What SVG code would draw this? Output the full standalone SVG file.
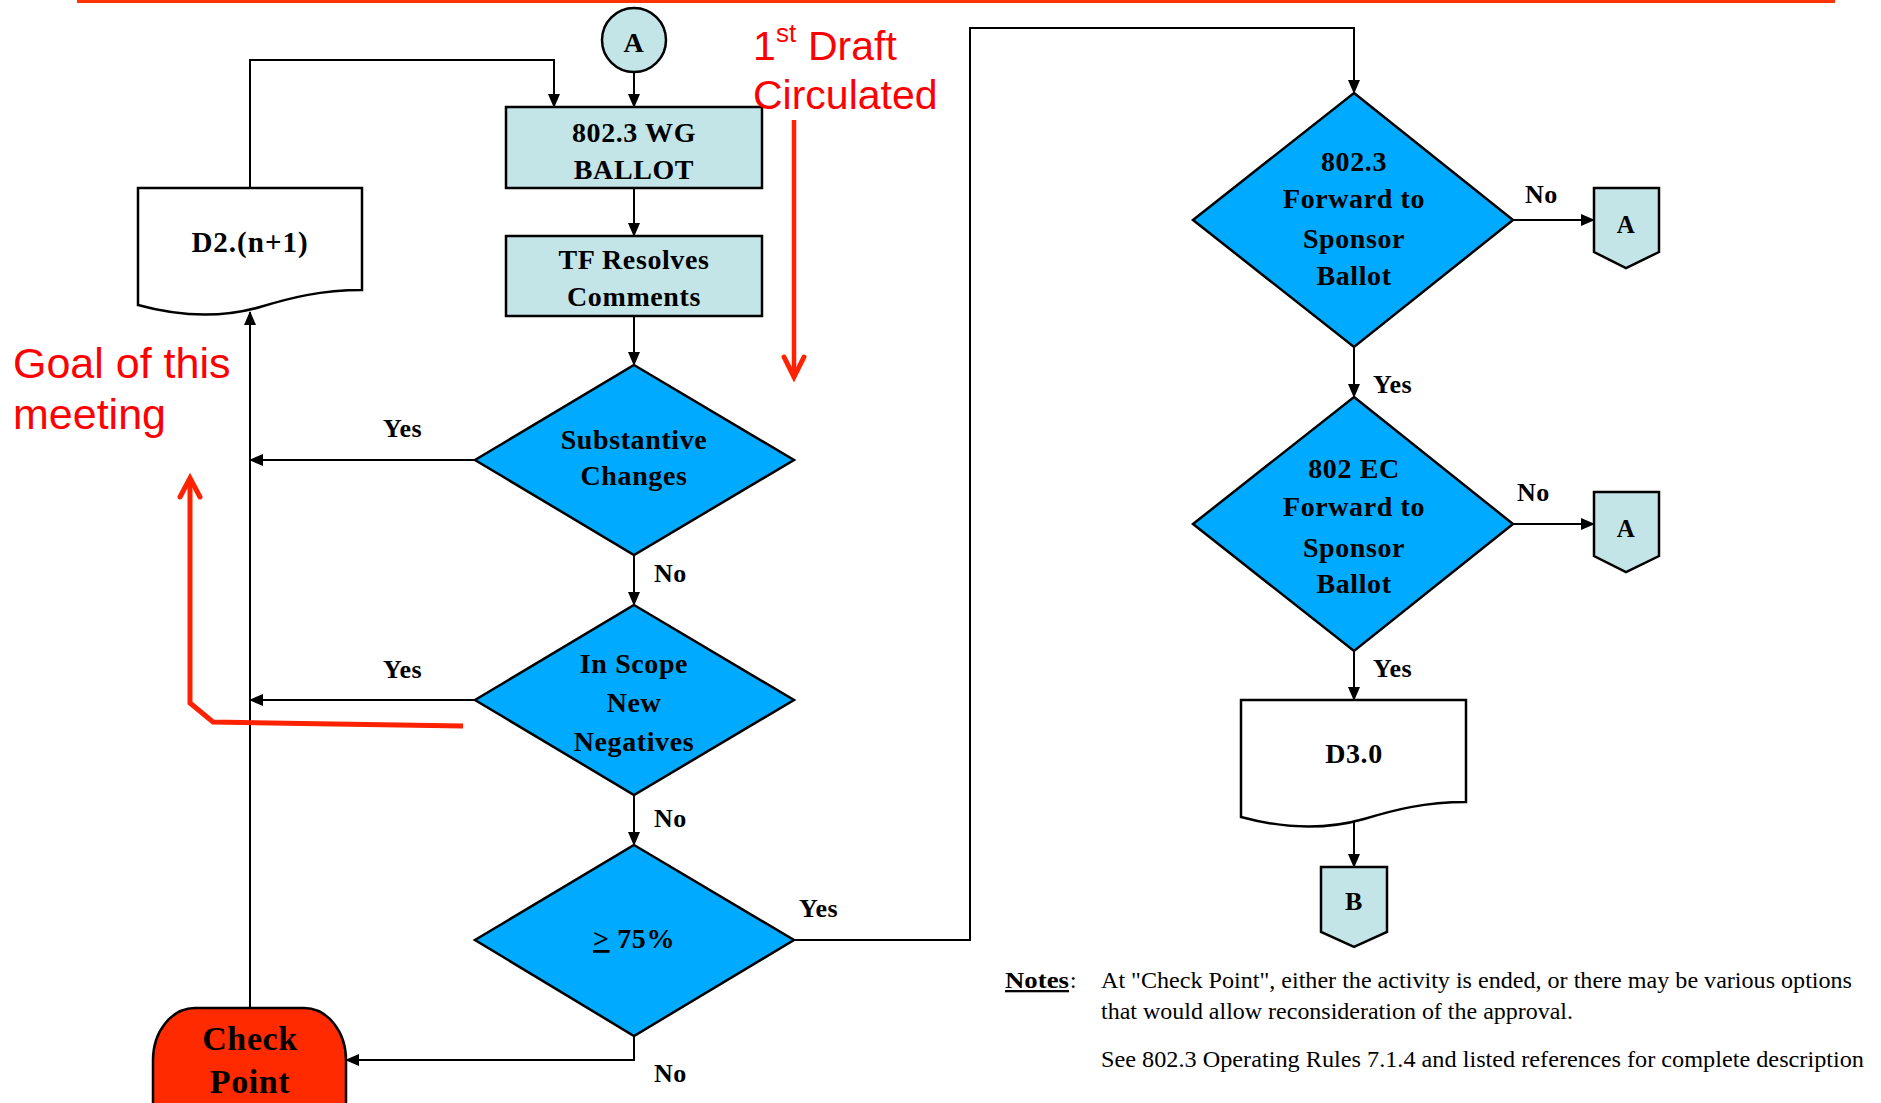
<svg xmlns="http://www.w3.org/2000/svg" width="1881" height="1103" viewBox="0 0 1881 1103">
<defs>
<marker id="arr" markerUnits="userSpaceOnUse" markerWidth="14" markerHeight="12" refX="13" refY="6" orient="auto">
<path d="M0,0 L14,6 L0,12 Z" fill="#000"/>
</marker>
<style>
.ln{fill:none;stroke:#000;stroke-width:2}
.box{fill:#C4E5E8;stroke:#000;stroke-width:2.5}
.dia{fill:#00AAFF;stroke:#000;stroke-width:2.5}
.doc{fill:#fff;stroke:#000;stroke-width:2.5}
.t{font-family:"Liberation Serif","Times New Roman",serif;font-weight:bold;font-size:28px;fill:#000;text-anchor:middle;letter-spacing:0.6px}
.lb{font-family:"Liberation Serif","Times New Roman",serif;font-weight:bold;font-size:26px;fill:#000;letter-spacing:0.5px}
.red{font-family:"Liberation Sans",Arial,sans-serif;font-size:41px;fill:#FF0000}
.rl{fill:none;stroke:#FF2200;stroke-width:5;stroke-linejoin:miter}
.nt{font-family:"Liberation Serif","Times New Roman",serif;font-size:23px;fill:#000}
</style>
</defs>
<line x1="77" y1="1.5" x2="1835" y2="1.5" stroke="#FF3300" stroke-width="3"/>

<g id="connectors">
<line class="ln" x1="634" y1="72" x2="634" y2="107" marker-end="url(#arr)"/>
<line class="ln" x1="634" y1="188" x2="634" y2="236" marker-end="url(#arr)"/>
<line class="ln" x1="634" y1="316" x2="634" y2="365" marker-end="url(#arr)"/>
<line class="ln" x1="634" y1="555" x2="634" y2="605" marker-end="url(#arr)"/>
<line class="ln" x1="634" y1="795" x2="634" y2="845" marker-end="url(#arr)"/>
<line class="ln" x1="475" y1="460" x2="250" y2="460" marker-end="url(#arr)"/>
<line class="ln" x1="475" y1="700" x2="250" y2="700" marker-end="url(#arr)"/>
<line class="ln" x1="250" y1="1008" x2="250" y2="312" marker-end="url(#arr)"/>
<polyline class="ln" points="250,188 250,60 554,60 554,107" marker-end="url(#arr)"/>
<polyline class="ln" points="634,1036 634,1060 346,1060" marker-end="url(#arr)"/>
<polyline class="ln" points="794,940 970,940 970,28 1354,28 1354,93" marker-end="url(#arr)"/>
<line class="ln" x1="1513" y1="220" x2="1594" y2="220" marker-end="url(#arr)"/>
<line class="ln" x1="1354" y1="347" x2="1354" y2="397" marker-end="url(#arr)"/>
<line class="ln" x1="1513" y1="524" x2="1594" y2="524" marker-end="url(#arr)"/>
<line class="ln" x1="1354" y1="651" x2="1354" y2="700" marker-end="url(#arr)"/>
<line class="ln" x1="1354" y1="820" x2="1354" y2="867" marker-end="url(#arr)"/>
<text class="lb" x="383" y="437">Yes</text>
<text class="lb" x="383" y="678">Yes</text>
<text class="lb" x="654" y="582">No</text>
<text class="lb" x="654" y="827">No</text>
<text class="lb" x="799" y="917">Yes</text>
<text class="lb" x="654" y="1082">No</text>
<text class="lb" x="1525" y="203">No</text>
<text class="lb" x="1373" y="393">Yes</text>
<text class="lb" x="1517" y="501">No</text>
<text class="lb" x="1373" y="677">Yes</text>
</g>

<g id="nodeA">
<circle cx="634" cy="40" r="32" class="box"/>
<text class="t" x="634" y="52">A</text>
</g>
<g id="ballot">
<rect x="506" y="107" width="256" height="81" class="box"/>
<text class="t" x="634" y="142">802.3 WG</text>
<text class="t" x="634" y="179">BALLOT</text>
</g>
<g id="resolve">
<rect x="506" y="236" width="256" height="80" class="box"/>
<text class="t" x="634" y="269">TF Resolves</text>
<text class="t" x="634" y="306">Comments</text>
</g>
<g id="d2">
<path class="doc" d="M138,188 H362 V290 C320,290 290,298 260,307 C225,317 185,318 138,305 Z"/>
<text class="t" x="250" y="252" style="font-size:29px;letter-spacing:1px">D2.(n+1)</text>
</g>
<g id="substantive">
<polygon class="dia" points="634,365 794,460 634,555 475,460"/>
<text class="t" x="634" y="449">Substantive</text>
<text class="t" x="634" y="485">Changes</text>
</g>
<g id="inscope">
<polygon class="dia" points="634,605 794,700 634,795 475,700"/>
<text class="t" x="634" y="673">In Scope</text>
<text class="t" x="634" y="712">New</text>
<text class="t" x="634" y="751">Negatives</text>
</g>
<g id="pct">
<polygon class="dia" points="634,845 794,940 634,1036 475,940"/>
<text class="t" x="634" y="948"><tspan text-decoration="underline">&gt;</tspan> 75%</text>
</g>
<g id="checkpoint">
<rect x="153" y="1008" width="193" height="160" rx="42" ry="52" fill="#FF2A00" stroke="#000" stroke-width="2.5"/>
<text class="t" x="250" y="1050" style="font-size:34px">Check</text>
<text class="t" x="250" y="1093" style="font-size:34px">Point</text>
</g>
<g id="fwd8023">
<polygon class="dia" points="1354,93 1513,220 1354,347 1193,220"/>
<text class="t" x="1354" y="171">802.3</text>
<text class="t" x="1354" y="208">Forward to</text>
<text class="t" x="1354" y="248">Sponsor</text>
<text class="t" x="1354" y="285">Ballot</text>
</g>
<g id="fwdEC">
<polygon class="dia" points="1354,397 1513,524 1354,651 1193,524"/>
<text class="t" x="1354" y="478">802 EC</text>
<text class="t" x="1354" y="516">Forward to</text>
<text class="t" x="1354" y="557">Sponsor</text>
<text class="t" x="1354" y="593">Ballot</text>
</g>
<g id="offA1">
<polygon class="box" points="1594,188 1659,188 1659,252 1626,268 1594,252"/>
<text class="t" x="1626" y="233" style="font-size:25px">A</text>
</g>
<g id="offA2">
<polygon class="box" points="1594,492 1659,492 1659,556 1626,572 1594,556"/>
<text class="t" x="1626" y="537" style="font-size:25px">A</text>
</g>
<g id="d3">
<path class="doc" d="M1241,700 H1466 V802 C1424,802 1394,810 1364,819 C1329,829 1289,830 1241,817 Z"/>
<text class="t" x="1354" y="763">D3.0</text>
</g>
<g id="offB">
<polygon class="box" points="1321,867 1387,867 1387,932 1354,947 1321,932"/>
<text class="t" x="1354" y="910" style="font-size:26px">B</text>
</g>

<g id="annotations">
<text class="red" x="753" y="60">1</text>
<text class="red" x="776" y="42" style="font-size:26px">st</text>
<text class="red" x="808" y="60">Draft</text>
<text class="red" x="753" y="109">Circulated</text>
<line x1="794" y1="120" x2="794" y2="376" stroke="#FF2200" stroke-width="4.5"/>
<polyline class="rl" points="784,357 794,377 804,357" stroke-width="4.5" stroke-linecap="round"/>
<text class="red" x="13" y="378" style="font-size:43px">Goal of this</text>
<text class="red" x="13" y="429" style="font-size:43px">meeting</text>
<polyline class="rl" points="463,726 213,722 190,703 190,479"/>
<polyline class="rl" points="180,497 190,478 200,497" stroke-linecap="round"/>
</g>

<g id="notes">
<text class="nt" x="1005" y="988" font-weight="bold" text-decoration="underline" textLength="64" lengthAdjust="spacingAndGlyphs">Notes</text>
<text class="nt" x="1070" y="988">:</text>
<text class="nt" x="1101" y="988" textLength="751" lengthAdjust="spacingAndGlyphs">At "Check Point", either the activity is ended, or there may be various options</text>
<text class="nt" x="1101" y="1019" textLength="472" lengthAdjust="spacingAndGlyphs">that would allow reconsideration of the approval.</text>
<text class="nt" x="1101" y="1067" textLength="763" lengthAdjust="spacingAndGlyphs">See 802.3 Operating Rules 7.1.4 and listed references for complete description</text>
</g>
</svg>
